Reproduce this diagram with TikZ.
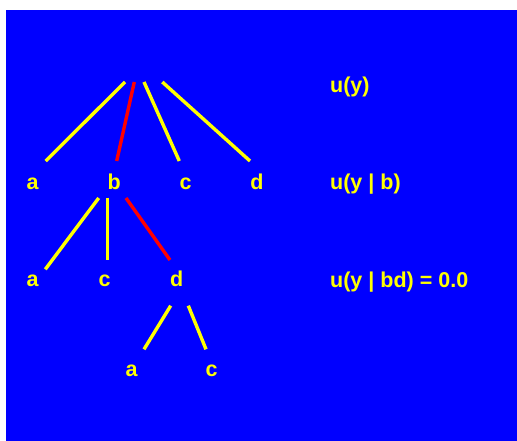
\documentclass[tikz,border=0pt]{standalone}
\usepackage{fontspec}
\setmainfont{Liberation Sans}
\definecolor{bg}{RGB}{0,0,255}
\definecolor{yel}{RGB}{255,255,0}
\definecolor{rd}{RGB}{255,0,0}
\begin{document}
\begin{tikzpicture}[x=1pt,y=-1pt,
  lbl/.style={text=yel,font=\fontsize{21.5}{25}\selectfont\bfseries,inner sep=0pt,anchor=base},
  note/.style={lbl,anchor=base west},
  edge/.style={draw=yel,line width=3.4pt},
  hot/.style={draw=rd,line width=3.4pt}]
\useasboundingbox (0,0) rectangle (517,441);
\fill[bg] (6,10) rectangle (517,441);
% labels
\node[lbl] (a1) at (32.7,189.3) {a};
\node[lbl] (b1) at (114.2,189.3) {b};
\node[lbl] (c1) at (185.7,189.3) {c};
\node[lbl] (d1) at (257,189.3) {d};
\node[lbl] (a2) at (32.7,286.7) {a};
\node[lbl] (c2) at (104.7,286.7) {c};
\node[lbl] (d2) at (176.7,286.7) {d};
\node[lbl] (a3) at (131.7,376.7) {a};
\node[lbl] (c3) at (211.7,376.7) {c};
\node[note] (u0) at (330,92.5) {u(y)};
\node[note] (u1) at (330,189.5) {u(y | b)};
\node[note] (u2) at (330,287.5) {u(y | bd) = 0.0};
% line end points
\coordinate (ra) at (125,82);
\coordinate (rb) at (134.3,82);
\coordinate (rc) at (144,82);
\coordinate (rd) at (162.3,82);
\coordinate (ea) at (45.7,161);
\coordinate (eb) at (116.7,161);
\coordinate (ec) at (179.3,161);
\coordinate (ed) at (250,161);
\coordinate (ba) at (98.7,198);
\coordinate (bc) at (107.7,198);
\coordinate (bd) at (126,198);
\coordinate (fa) at (45.3,269.3);
\coordinate (fc) at (107.7,260.3);
\coordinate (fd) at (170,260);
\coordinate (da) at (170.7,305.7);
\coordinate (dc) at (188.3,305.7);
\coordinate (ga) at (144,349.3);
\coordinate (gc) at (206,349.3);
% connectors
\draw[edge] (ra) -- (ea);
\draw[hot] (rb) -- (eb);
\draw[edge] (rc) -- (ec);
\draw[edge] (rd) -- (ed);
\draw[edge] (ba) -- (fa);
\draw[edge] (bc) -- (fc);
\draw[hot] (bd) -- (fd);
\draw[edge] (da) -- (ga);
\draw[edge] (dc) -- (gc);
\end{tikzpicture}
\end{document}
